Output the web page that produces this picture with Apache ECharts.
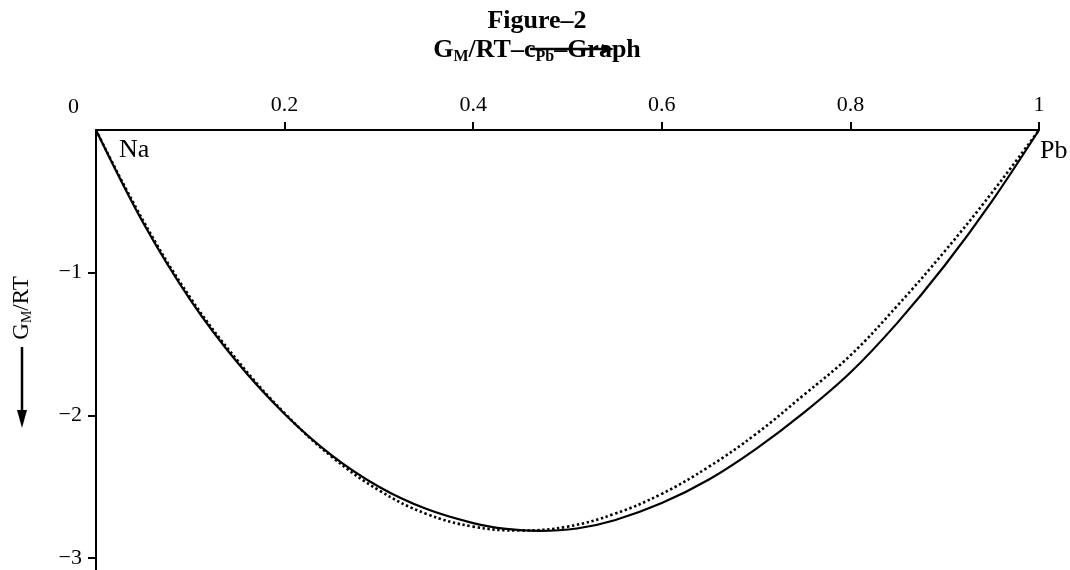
<!DOCTYPE html>
<html>
<head>
<meta charset="utf-8">
<script src="https://cdn.jsdelivr.net/npm/echarts@6/dist/echarts.min.js"></script>
<style>
html,body{margin:0;padding:0;background:#fff;}
#chart{width:1070px;height:570px;}
</style>
</head>
<body>
<div id="chart"></div>
<script>
// Solid curve: composition x (Pb) and G_M/RT
var solidX      = [0,0.05,0.1,0.15,0.2,0.25,0.3,0.35,0.4,0.435,0.47,0.51,0.55,0.6,0.65,0.7,0.75,0.8,0.85,0.9,0.95,1];
var solidValues = [0,-0.65,-1.19,-1.63,-1.99,-2.28,-2.50,-2.655,-2.755,-2.796,-2.81,-2.793,-2.735,-2.615,-2.45,-2.235,-1.985,-1.70,-1.35,-0.95,-0.50,0];
// Dotted curve: composition x (Pb) and G_M/RT
var dottedX      = [0,0.05,0.1,0.15,0.2,0.25,0.3,0.35,0.4,0.45,0.5,0.55,0.6,0.65,0.7,0.75,0.8,0.85,0.9,0.95,1];
var dottedValues = [0,-0.635,-1.175,-1.615,-1.985,-2.29,-2.525,-2.69,-2.78,-2.807,-2.78,-2.69,-2.55,-2.36,-2.13,-1.86,-1.58,-1.23,-0.85,-0.44,0];
var xTicks = [0.2,0.4,0.6,0.8,1];
var yTicks = [-3,-2,-1];

function pairs(xs, ys){ return xs.map(function(x,i){ return [x, ys[i]]; }); }

var FONT = 'Liberation Serif';
var chart = echarts.init(document.getElementById('chart'), null, {renderer:'canvas'});
chart.setOption({
  animation:false,
  backgroundColor:'#fff',
  grid:{left:96, right:31, top:130, bottom:0, outerBoundsMode:'none'},
  xAxis:{
    type:'value', position:'top', min:0, max:1, interval:0.2,
    axisLine:{show:true, onZero:false, lineStyle:{color:'#000', width:2}},
    axisTick:{show:true, inside:false, length:8, lineStyle:{color:'#000', width:2}, customValues:xTicks},
    axisLabel:{show:true, margin:14, fontFamily:FONT, fontSize:22, color:'#000', customValues:xTicks,
      formatter:function(v){ return String(v); }},
    splitLine:{show:false}
  },
  yAxis:{
    type:'value', min:-3.084, max:0,
    axisLine:{show:true, onZero:false, lineStyle:{color:'#000', width:2}},
    axisTick:{show:true, inside:false, length:8, lineStyle:{color:'#000', width:2}, customValues:yTicks},
    axisLabel:{show:true, margin:14, fontFamily:FONT, fontSize:22, color:'#000', customValues:yTicks,
      formatter:function(v){ return String(v).replace('-', '\u2212'); }},
    splitLine:{show:false}
  },
  series:[
    {type:'line', data:pairs(solidX, solidValues), smooth:0.35, symbol:'none',
      lineStyle:{color:'#000', width:2.2, type:'solid'}},
    {type:'line', data:pairs(dottedX, dottedValues), smooth:0.4, symbol:'none',
      lineStyle:{color:'#000', width:2.6, type:[2.4,2.6]}}
  ],
  graphic:[
    {type:'text', x:537, y:21, style:{text:'Figure–2', font:'bold 26px "Liberation Serif"', fill:'#000', align:'center', verticalAlign:'middle'}},
    {type:'text', x:537, y:50,
      style:{text:'{b|G}{s|M}{b|/RT–c}{s|Pb}{b|–Graph}', align:'center', verticalAlign:'middle',
        rich:{b:{fontFamily:FONT, fontWeight:'bold', fontSize:26, lineHeight:30, fill:'#000'},
              s:{fontFamily:FONT, fontWeight:'bold', fontSize:16, lineHeight:12, verticalAlign:'bottom', fill:'#000'}}}},
    {type:'line', shape:{x1:530, y1:49, x2:604, y2:49}, style:{stroke:'#000', lineWidth:2.5}},
    {type:'polygon', shape:{points:[[602,44],[602,54],[614,49]]}, style:{fill:'#000'}},
    {type:'text', x:73.5, y:107, style:{text:'0', font:'22px "Liberation Serif"', fill:'#000', align:'center', verticalAlign:'middle'}},
    {type:'text', x:119, y:150, style:{text:'Na', font:'26px "Liberation Serif"', fill:'#000', align:'left', verticalAlign:'middle'}},
    {type:'text', x:1040, y:151, style:{text:'Pb', font:'26px "Liberation Serif"', fill:'#000', align:'left', verticalAlign:'middle'}},
    {type:'text', x:22, y:308, rotation:Math.PI/2,
      style:{text:'{a|G}{s|M}{a|/RT}', align:'center', verticalAlign:'middle',
        rich:{a:{fontFamily:FONT, fontSize:23, lineHeight:24, fill:'#000'},
              s:{fontFamily:FONT, fontSize:14, lineHeight:10, verticalAlign:'bottom', fill:'#000'}}}},
    {type:'line', shape:{x1:22, y1:347, x2:22, y2:413}, style:{stroke:'#000', lineWidth:2.5}},
    {type:'polygon', shape:{points:[[17,410],[27,410],[22,428]]}, style:{fill:'#000'}}
  ]
});
</script>
</body>
</html>
